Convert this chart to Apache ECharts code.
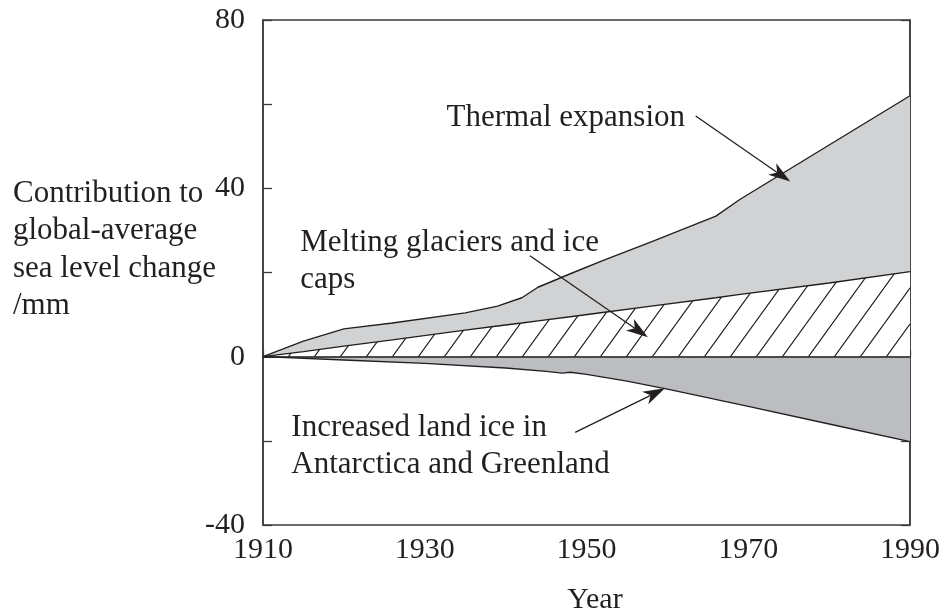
<!DOCTYPE html>
<html><head><meta charset="utf-8">
<script src="https://cdn.jsdelivr.net/npm/echarts@6/dist/echarts.min.js"></script>
<style>html,body{margin:0;padding:0;background:#fff}#c{width:944px;height:616px}</style>
</head><body><div id="c"></div>
<script>
// ---- data ----
const years    = [1910,1915,1920,1926,1935,1939,1942,1944,1948,1952,1958,1966,1969,1980,1990];
const glaciers = [0,1.2,2.5,4.0,6.3,7.3,8.0,8.5,9.5,10.5,12.0,14.0,14.8,17.5,20.2];
const thermal  = [0,2.5,4.1,4.0,4.1,4.7,6.0,8.0,10.2,12.3,15.3,19.4,22.6,32.8,41.8];
const iceYears = [1910,1920,1930,1940,1945,1947,1948,1950,1955,1960,1970,1980,1990];
const landIce  = [0,-0.8,-1.6,-2.7,-3.5,-3.9,-3.7,-4.2,-5.8,-7.7,-11.8,-16.0,-20.2];
const xTickLabels = [1910,1930,1950,1970,1990];
const yTickLabels = [-40,0,40,80];

const INK = '#231f20';
const FONT = '"Liberation Serif", "Times New Roman", serif';

function hatchPattern(){
  const w = 26, h = 36;
  const c = document.createElement('canvas'); c.width = w; c.height = h;
  const g = c.getContext('2d');
  g.fillStyle = '#ffffff'; g.fillRect(0,0,w,h);
  g.strokeStyle = INK; g.lineWidth = 1.2;
  g.beginPath();
  for (const dx of [-w,0,w]) { g.moveTo(dx, h); g.lineTo(dx + w, 0); }
  g.stroke();
  return c;
}

// thermal expansion sits on top of the glacier contribution (cumulative top)
const thermalTop = years.map((y,i) => [y, +(glaciers[i] + thermal[i]).toFixed(2)]);

const chart = echarts.init(document.getElementById('c'), null, {renderer:'canvas'});
const lineStyle = {color: INK, width: 1.4};
const option = {
  animation: false,
  backgroundColor: '#fff',
  grid: {left: 263, right: 34, top: 20, bottom: 91, show: true, borderColor: '#3a3a3a', borderWidth: 1.5, backgroundColor: 'transparent'},
  xAxis: [{
    type: 'value', min: 1910, max: 1990, interval: 10, position: 'bottom',
    axisLine: {show: true, lineStyle: {color: '#3a3a3a', width: 1.5}},
    axisTick: {show: true, inside: true, length: 6, lineStyle: {color: '#3a3a3a', width: 1.3}},
    splitLine: {show: false},
    axisLabel: {margin: 10, color: INK, fontFamily: FONT, fontSize: 30,
      formatter: v => xTickLabels.includes(v) ? String(v) : ''}
  }],
  yAxis: [{
    type: 'value', min: -40, max: 80, interval: 20, position: 'left',
    axisLine: {show: true, lineStyle: {color: '#3a3a3a', width: 1.5}},
    axisTick: {show: true, inside: true, length: 9, lineStyle: {color: '#3a3a3a', width: 1.3}},
    splitLine: {show: false},
    axisLabel: {margin: 18, color: INK, fontFamily: FONT, fontSize: 30,
      formatter: v => yTickLabels.includes(v) ? String(v) : ''}
  },{
    type: 'value', min: -40, max: 80, interval: 20, position: 'right',
    axisLine: {show: true, lineStyle: {color: '#3a3a3a', width: 1.5}},
    axisTick: {show: true, inside: true, length: 9, lineStyle: {color: '#3a3a3a', width: 1.3}},
    splitLine: {show: false},
    axisLabel: {show: false}
  }],
  series: [{
    name: 'Thermal expansion', type: 'line', symbol: 'none',
    data: thermalTop,
    lineStyle, areaStyle: {color: '#d1d2d4', opacity: 1, origin: 0}, z: 2
  },{
    name: 'Melting glaciers and ice caps', type: 'line', symbol: 'none',
    data: years.map((y,i) => [y, glaciers[i]]),
    lineStyle, areaStyle: {color: {image: hatchPattern(), repeat: 'repeat'}, opacity: 1, origin: 0}, z: 3
  },{
    name: 'Increased land ice in Antarctica and Greenland', type: 'line', symbol: 'none',
    data: iceYears.map((y,i) => [y, landIce[i]]),
    lineStyle, areaStyle: {color: '#bcbdc0', opacity: 1, origin: 0}, z: 3,
    markLine: {silent: true, symbol: 'none', label: {show: false},
      lineStyle: {color: INK, width: 1.6, type: 'solid'}, data: [{yAxis: 0}]}
  }]
};
chart.setOption(option);

// ---- annotations placed in data coordinates ----
const P = (x, y) => chart.convertToPixel({gridIndex: 0}, [x, y]);
function textEl(str, x, y, align) {
  const [px, py] = P(x, y);
  return {type: 'text', z: 50, style: {text: str, x: px, y: py, font: '31px ' + FONT, fill: INK,
    textAlign: align || 'left', textVerticalAlign: 'middle', align: align || 'left', verticalAlign: 'middle', lineHeight: 37}};
}
function arrowEls(x0, y0, x1, y1) {
  const [ax, ay] = P(x0, y0), [bx, by] = P(x1, y1);
  const dx = bx - ax, dy = by - ay, len = Math.hypot(dx, dy);
  const ux = dx / len, uy = dy / len, nx = -uy, ny = ux;
  const L = 22, W = 7, N = 6;
  return [{
    type: 'line', z: 50, shape: {x1: ax, y1: ay, x2: bx - ux * (L - N), y2: by - uy * (L - N)},
    style: {stroke: INK, lineWidth: 1.3}
  },{
    type: 'polygon', z: 50, shape: {points: [
      [bx, by], [bx - L*ux + W*nx, by - L*uy + W*ny], [bx - (L-N)*ux, by - (L-N)*uy], [bx - L*ux - W*nx, by - L*uy - W*ny]]},
    style: {fill: INK}
  }];
}
const graphics = [
  textEl('Thermal expansion', 1932.7, 56.8),
  ...arrowEls(1963.5, 57.2, 1975.2, 41.6),
  textEl('Melting glaciers and ice\ncaps', 1914.6, 22.7),
  ...arrowEls(1943.0, 24.0, 1957.6, 4.6),
  textEl('Increased land ice in\nAntarctica and Greenland', 1913.5, -21.2),
  ...arrowEls(1948.6, -18.0, 1959.7, -7.5),
  {type: 'text', z: 50, style: {text: 'Contribution to\nglobal-average\nsea level change\n/mm', x: 13, y: 250,
    font: '31px ' + FONT, fill: INK, textAlign: 'left', textVerticalAlign: 'middle', align: 'left', verticalAlign: 'middle', lineHeight: 37.5}},
  {type: 'text', z: 50, style: {text: 'Year', x: 595, y: 600,
    font: '30px ' + FONT, fill: INK, textAlign: 'center', textVerticalAlign: 'middle', align: 'center', verticalAlign: 'middle'}}
];
chart.setOption({graphic: graphics});
</script>
</body></html>
